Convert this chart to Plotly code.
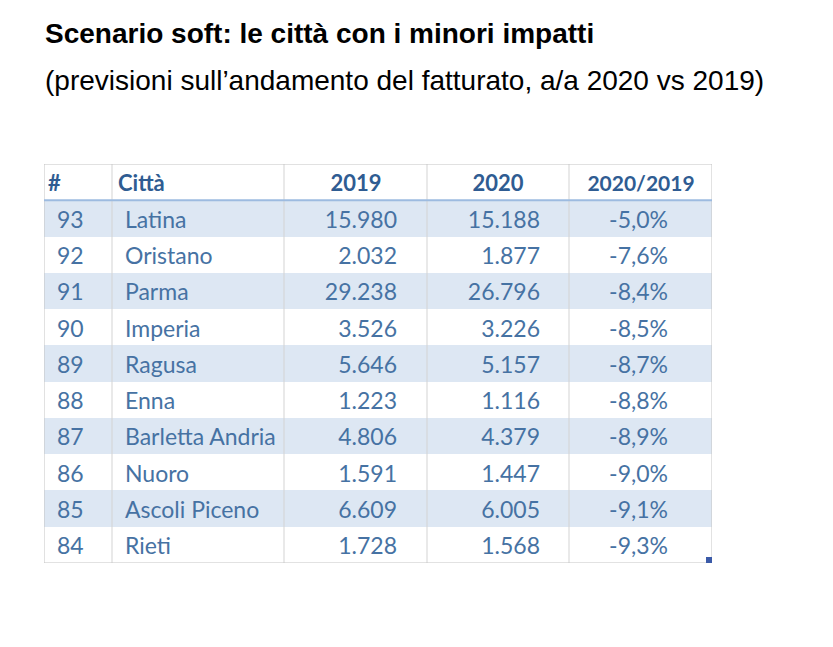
import plotly.graph_objects as go

# ---------------- data ----------------
ranks = [93, 92, 91, 90, 89, 88, 87, 86, 85, 84]
cities = ["Latina", "Oristano", "Parma", "Imperia", "Ragusa", "Enna",
          "Barletta Andria", "Nuoro", "Ascoli Piceno", "Rieti"]
revenue_2019 = [15980, 2032, 29238, 3526, 5646, 1223, 4806, 1591, 6609, 1728]
revenue_2020 = [15188, 1877, 26796, 3226, 5157, 1116, 4379, 1447, 6005, 1568]
change_pct = [-5.0, -7.6, -8.4, -8.5, -8.7, -8.8, -8.9, -9.0, -9.1, -9.3]
headers = ["#", "Città", "2019", "2020", "2020/2019"]

title = "<b>Scenario soft: le città con i minori impatti</b>"
subtitle = "(previsioni sull’andamento del fatturato, a/a 2020 vs 2019)"


def fmt_int(v):
    return f"{v:,}".replace(",", ".")


def fmt_pct(v):
    return f"{v:.1f}%".replace(".", ",")


# ---------------- layout geometry ----------------
W, H = 833, 647
T_LEFT, T_RIGHT, T_TOP, T_BOTTOM = 44, 712, 164, 563
TW = T_RIGHT - T_LEFT
n_rows = len(cities) + 1
col_edges = [0, 68, 240, 383, 525, TW]
TEXT_DY = 0.1  # slight downward nudge of text within a row

HEADER_COLOR = "#2f5c92"
BODY_COLOR = "#4672a3"
FILL = "#dde7f3"
GRID = "#d3d3d3"
BORDER = "#c4c4c4"
TFONT = "Lato"

fig = go.Figure()

# alternating row fills (bars on the row axis)
fill_rows = [i + 1.5 for i in range(len(cities)) if i % 2 == 0]
fig.add_trace(go.Bar(
    y=fill_rows, x=[TW] * len(fill_rows), base=0, orientation="h",
    width=1, marker=dict(color=FILL, line=dict(width=0)),
    hoverinfo="skip", showlegend=False,
))

row_y = [i + 1.5 + TEXT_DY for i in range(len(cities))]
head_y = [0.5 + TEXT_DY]


def text_trace(xpos, ys, texts, pos, color, bold=False, size=23):
    return go.Scatter(
        x=[xpos] * len(ys), y=ys, mode="text", text=texts,
        textposition=pos,
        textfont=dict(family=TFONT, size=size, color=color,
                      weight="bold" if bold else "normal"),
        hoverinfo="skip", showlegend=False,
    )


# header
fig.add_trace(text_trace(4, head_y, [headers[0]], "middle right", HEADER_COLOR, True, 22))
fig.add_trace(text_trace(74, head_y, [headers[1]], "middle right", HEADER_COLOR, True, 22))
fig.add_trace(text_trace(312, head_y, [headers[2]], "middle center", HEADER_COLOR, True, 22))
fig.add_trace(text_trace(454, head_y, [headers[3]], "middle center", HEADER_COLOR, True, 22))
fig.add_trace(text_trace(597, head_y, [headers[4]], "middle center", HEADER_COLOR, True, 21))

# body
fig.add_trace(text_trace(13, row_y, [str(r) for r in ranks], "middle right", BODY_COLOR))
fig.add_trace(text_trace(81, row_y, cities, "middle right", BODY_COLOR))
fig.add_trace(text_trace(353, row_y, [fmt_int(v) for v in revenue_2019], "middle left", BODY_COLOR))
fig.add_trace(text_trace(496, row_y, [fmt_int(v) for v in revenue_2020], "middle left", BODY_COLOR))
fig.add_trace(text_trace(624, row_y, [fmt_pct(v) for v in change_pct], "middle left", BODY_COLOR))

shapes = []
# vertical dividers
for xe in col_edges[1:-1]:
    shapes.append(dict(type="line", xref="x", yref="y", x0=xe, x1=xe, y0=0, y1=n_rows,
                       line=dict(color=GRID, width=1)))
# outer border
shapes.append(dict(type="rect", xref="x", yref="y", x0=0, x1=TW, y0=0, y1=n_rows,
                   line=dict(color=BORDER, width=1), fillcolor="rgba(0,0,0,0)"))
# header bottom line
shapes.append(dict(type="line", xref="x", yref="y", x0=0, x1=TW, y0=1, y1=1,
                   line=dict(color="#9dbbe0", width=2)))
# small resize handle at the bottom-right corner
shapes.append(dict(type="rect", xref="paper", yref="paper",
                   x0=(T_RIGHT - 6) / W, x1=T_RIGHT / W,
                   y0=1 - T_BOTTOM / H, y1=1 - (T_BOTTOM - 6) / H,
                   line=dict(width=0), fillcolor="#3b5aa8"))

annotations = [
    dict(text=title, x=43 / W, y=1 - 33 / H, xref="paper", yref="paper",
         xanchor="left", yanchor="middle", showarrow=False,
         font=dict(family="Liberation Sans", size=28, color="#000000")),
    dict(text=subtitle, x=43 / W, y=1 - 80 / H, xref="paper", yref="paper",
         xanchor="left", yanchor="middle", showarrow=False,
         font=dict(family="Liberation Sans", size=28, color="#000000")),
]

fig.update_layout(
    width=W, height=H,
    margin=dict(l=0, r=0, t=0, b=0),
    paper_bgcolor="white", plot_bgcolor="white",
    showlegend=False,
    xaxis=dict(domain=[T_LEFT / W, T_RIGHT / W], range=[0, TW],
               visible=False, fixedrange=True),
    yaxis=dict(domain=[1 - T_BOTTOM / H, 1 - T_TOP / H], range=[n_rows, 0],
               visible=False, fixedrange=True),
    shapes=shapes,
    annotations=annotations,
    bargap=0,
)

fig.write_html("out.html",
               config={"displayModeBar": False, "staticPlot": True},
               post_script="document.body.style.margin='0';document.body.style.overflow='hidden';")
